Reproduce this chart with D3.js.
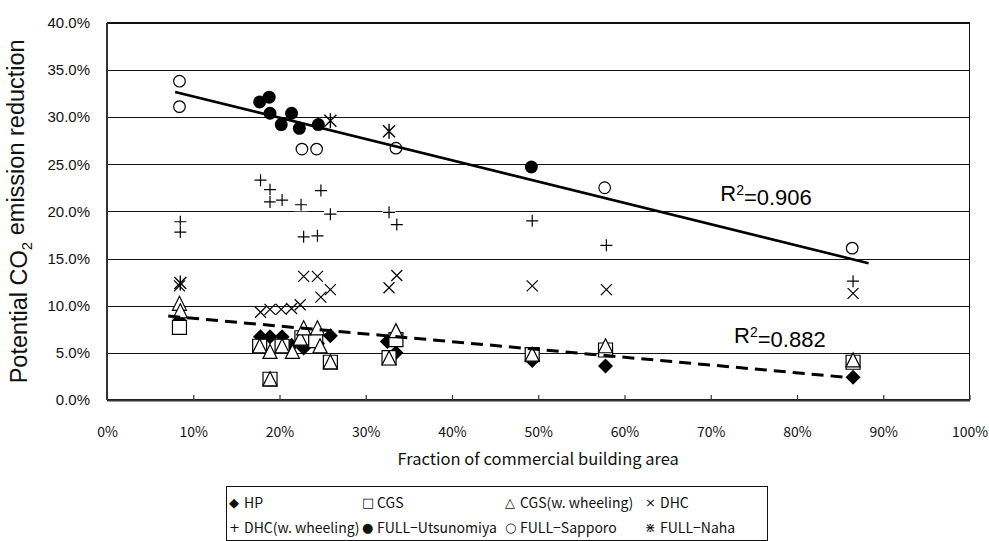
<!DOCTYPE html>
<html>
<head>
<meta charset="utf-8">
<script src="https://cdn.jsdelivr.net/npm/d3@7"></script>
<style>
  html, body { margin: 0; padding: 0; background: #fff; }
  svg { display: block; }
</style>
</head>
<body>
<svg id="chart" width="989" height="541"></svg>
<script>
// --- data (x = fraction of commercial building area %, y = CO2 reduction %) ---
const hpX = [8.4, 17.8, 18.9, 20.3, 21.4, 22.8, 24.4, 25.9, 32.5, 33.5, 49.3, 57.8, 86.5];
const hpY = [8.4, 6.7, 6.7, 6.7, 5.8, 5.5, 6.0, 6.8, 6.2, 5.0, 4.2, 3.6, 2.4];

const cgsX = [8.4, 17.7, 18.9, 20.3, 22.6, 24.2, 25.9, 32.7, 33.5, 49.3, 57.8, 86.5];
const cgsY = [7.7, 5.7, 2.2, 5.7, 6.6, 6.3, 4.0, 4.5, 6.4, 4.8, 5.3, 4.0];

const cgsWX = [8.4, 8.5, 17.7, 18.9, 18.9, 20.3, 21.5, 22.4, 22.8, 24.4, 24.7, 25.9, 32.7, 33.5, 49.3, 57.8, 86.5];
const cgsWY = [10.2, 9.4, 5.7, 5.1, 2.2, 5.7, 5.1, 6.5, 7.6, 7.6, 5.7, 4.0, 4.4, 7.3, 4.8, 5.7, 4.2];

const dhcX = [8.4, 17.8, 18.9, 20.2, 21.4, 22.4, 22.8, 24.4, 24.8, 25.9, 32.7, 33.6, 49.3, 57.9, 86.5];
const dhcY = [12.1, 9.3, 9.6, 9.6, 9.7, 10.1, 13.1, 13.1, 10.9, 11.7, 11.9, 13.2, 12.1, 11.7, 11.3];

const dhcWX = [8.5, 8.5, 17.8, 18.9, 18.9, 20.3, 22.5, 22.8, 24.4, 24.8, 25.9, 32.7, 33.6, 49.3, 57.9, 86.5];
const dhcWY = [18.9, 17.8, 23.3, 22.3, 21.0, 21.2, 20.7, 17.3, 17.4, 22.2, 19.7, 19.9, 18.6, 19.0, 16.4, 12.6];

const utsuX = [17.7, 18.8, 18.9, 20.2, 21.4, 22.3, 24.5, 49.2];
const utsuY = [31.6, 32.1, 30.4, 29.2, 30.4, 28.8, 29.2, 24.7];

const sappX = [8.4, 8.4, 22.6, 24.3, 33.5, 57.7, 86.4];
const sappY = [33.8, 31.1, 26.6, 26.6, 26.7, 22.5, 16.1];

const nahaX = [8.5, 25.9, 32.7];
const nahaY = [12.4, 29.6, 28.5];

// trend lines (end points)
const fullTrendX = [7.9, 88.3];
const fullTrendY = [32.66, 14.5];
const lowTrendX = [7.1, 85.8];
const lowTrendY = [8.9, 2.4];

const r2Labels = ["0.906", "0.882"];
const r2X = [71.1, 72.7];
const r2Y = [21.1, 6.0];

const xTicks = [0, 10, 20, 30, 40, 50, 60, 70, 80, 90, 100];
const yTicks = [0, 5, 10, 15, 20, 25, 30, 35, 40];

const legendLabels = ["HP", "CGS", "CGS(w. wheeling)", "DHC", "DHC(w. wheeling)", "FULL\u2212Utsunomiya", "FULL\u2212Sapporo", "FULL\u2212Naha"];
const legendGlyphs = ["\u25C6", "\u25A1", "\u25B3", "\u00D7", "+", "\u25CF", "\u25CB", "\u22C7"];

// --- setup ---
const svg = d3.select("#chart");
const margin = { top: 22.7, right: 19.5, bottom: 141, left: 107 };
const width = +svg.attr("width") - margin.left - margin.right;
const height = +svg.attr("height") - margin.top - margin.bottom;

const g = svg.append("g").attr("transform", `translate(${margin.left},${margin.top})`);

const x = d3.scaleLinear().domain([0, 100]).range([0, width]);
const y = d3.scaleLinear().domain([0, 40]).range([height, 0]);

// gridlines + y labels
const yAxis = g.append("g")
  .call(d3.axisLeft(y).tickValues(yTicks).tickSize(-width).tickPadding(17)
    .tickFormat(d => d.toFixed(1) + "%"));
yAxis.select(".domain").remove();
yAxis.selectAll("line").attr("stroke", "#111").attr("stroke-width", 1).attr("shape-rendering", "crispEdges");
yAxis.selectAll("text")
  .style("font-family", "'Liberation Sans', Arial, sans-serif")
  .style("font-size", "15px")
  .attr("fill", "#111");

// plot border
g.append("rect")
  .attr("width", width).attr("height", height)
  .attr("fill", "none").attr("stroke", "#111").attr("stroke-width", 1)
  .attr("shape-rendering", "crispEdges");

// x axis (ticks pointing inward)
const xAxis = g.append("g")
  .attr("transform", `translate(0,${height})`)
  .call(d3.axisBottom(x).tickValues(xTicks).tickSize(-5).tickSizeOuter(0).tickPadding(27)
    .tickFormat(d => d + "%"));
xAxis.select(".domain").attr("stroke", "#333").attr("stroke-width", 2);
xAxis.selectAll("line").attr("stroke", "#333").attr("stroke-width", 1.2);
xAxis.selectAll("text")
  .style("font-family", "'Noto Sans CJK JP', sans-serif")
  .style("font-size", "14px")
  .attr("fill", "#111");

// left axis line
g.append("line")
  .attr("x1", 0).attr("x2", 0).attr("y1", 0).attr("y2", height)
  .attr("stroke", "#333").attr("stroke-width", 2);

// --- markers ---
const shapes = {
  diamond: "M0,-7.5L7.5,0L0,7.5L-7.5,0Z",
  square: "M-7,-7H7V7H-7Z",
  triangle: "M0,-7.5L7,6.5L-7,6.5Z",
  cross: "M-5.5,-5.5L5.5,5.5M5.5,-5.5L-5.5,5.5",
  plus: "M-6,0H6M0,-6V6",
  star: "M-6,-6L6,6M6,-6L-6,6M0,-7.5V7.5"
};

const series = [
  { xs: hpX, ys: hpY, shape: "diamond", fill: "#000", stroke: "none" },
  { xs: cgsX, ys: cgsY, shape: "square", fill: "#fff", stroke: "#000" },
  { xs: cgsWX, ys: cgsWY, shape: "triangle", fill: "#fff", stroke: "#000" },
  { xs: dhcX, ys: dhcY, shape: "cross", fill: "none", stroke: "#000" },
  { xs: dhcWX, ys: dhcWY, shape: "plus", fill: "none", stroke: "#000", bg: true },
  { xs: utsuX, ys: utsuY, shape: "dot", fill: "#000", stroke: "none" },
  { xs: sappX, ys: sappY, shape: "ring", fill: "#fff", stroke: "#000" },
  { xs: nahaX, ys: nahaY, shape: "star", fill: "none", stroke: "#000" }
];

series.forEach(s => {
  const pts = s.xs.map((v, i) => ({ x: v, y: s.ys[i] }));
  const grp = g.append("g").selectAll("g").data(pts).enter().append("g")
    .attr("transform", d => `translate(${x(d.x)},${y(d.y)})`);
  if (s.bg) {
    grp.append("rect").attr("x", -6.5).attr("y", -6.5).attr("width", 13).attr("height", 13).attr("fill", "#fff");
  }
  if (s.shape === "dot") {
    grp.append("circle").attr("r", 6.5).attr("fill", "#000");
  } else if (s.shape === "ring") {
    grp.append("circle").attr("r", 5.8).attr("fill", "#fff").attr("stroke", "#000").attr("stroke-width", 1.2);
  } else {
    grp.append("path").attr("d", shapes[s.shape])
      .attr("fill", s.fill).attr("stroke", s.stroke).attr("stroke-width", s.shape === "star" ? 1.4 : 1.2);
  }
});

// --- trend lines ---
const line = d3.line().x(d => x(d[0])).y(d => y(d[1]));
g.append("path")
  .datum(fullTrendX.map((v, i) => [v, fullTrendY[i]]))
  .attr("d", line).attr("fill", "none").attr("stroke", "#000").attr("stroke-width", 2.6);
g.append("path")
  .datum(lowTrendX.map((v, i) => [v, lowTrendY[i]]))
  .attr("d", line).attr("fill", "none").attr("stroke", "#000").attr("stroke-width", 3)
  .attr("stroke-dasharray", "12,7");

// R^2 labels
r2Labels.forEach((lab, i) => {
  const t = g.append("text")
    .attr("x", x(r2X[i])).attr("y", y(r2Y[i]))
    .style("font-family", "'Liberation Sans', Arial, sans-serif")
    .style("font-size", "22px").attr("fill", "#000");
  t.append("tspan").text("R");
  t.append("tspan").attr("dy", "-0.45em").style("font-size", "14px").text("2");
  t.append("tspan").attr("dy", "0.45em").text("=" + lab);
});

// axis titles
svg.append("text")
  .attr("x", margin.left + width / 2).attr("y", 465)
  .attr("text-anchor", "middle")
  .style("font-family", "'Noto Sans CJK JP', sans-serif")
  .style("font-size", "16.5px").attr("fill", "#111")
  .text("Fraction of commercial building area");

const yt = svg.append("text")
  .attr("transform", `translate(27,${margin.top + height / 2}) rotate(-90)`)
  .attr("text-anchor", "middle")
  .style("font-family", "'Liberation Sans', Arial, sans-serif")
  .style("font-size", "23.5px").attr("fill", "#111");
yt.append("tspan").text("Potential CO");
yt.append("tspan").attr("dy", "0.3em").style("font-size", "15px").text("2");
yt.append("tspan").attr("dy", "-0.3em").text(" emission reduction");

// --- legend ---
const legend = svg.append("g");
legend.append("rect")
  .attr("x", 226).attr("y", 486).attr("width", 541).attr("height", 54)
  .attr("fill", "#fff").attr("stroke", "#111").attr("stroke-width", 1)
  .attr("shape-rendering", "crispEdges");
const colX = [229, 362, 505, 645];
const rowY = [508, 533];
const items = legend.selectAll("g.item").data(legendLabels).enter().append("g")
  .attr("class", "item")
  .attr("transform", (d, i) => `translate(${colX[i % 4]},${rowY[Math.floor(i / 4)]})`);
items.append("text")
  .attr("x", 0).attr("y", -1)
  .style("font-family", "'DejaVu Sans', sans-serif")
  .style("font-size", "13px").attr("fill", "#111")
  .text((d, i) => legendGlyphs[i]);
items.append("text")
  .attr("x", 15)
  .style("font-family", "'Noto Sans CJK JP', sans-serif")
  .style("font-size", "14px").attr("fill", "#111")
  .text(d => d);
</script>
</body>
</html>
